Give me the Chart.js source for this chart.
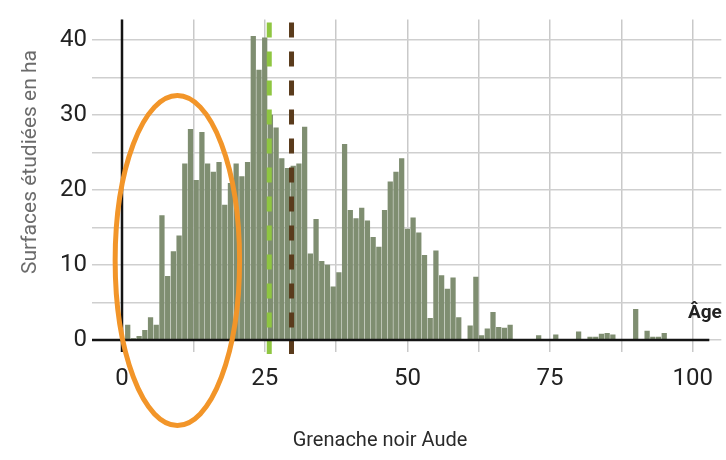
<!DOCTYPE html>
<html>
<head>
<meta charset="utf-8">
<script src="https://cdn.jsdelivr.net/npm/chart.js@4.4.1/dist/chart.umd.min.js"></script>
<style>
  html, body { margin: 0; padding: 0; background: #fff; }
  #wrap { width: 726px; height: 460px; }
</style>
</head>
<body>
<div id="wrap"><canvas id="ageChart" width="726" height="460"></canvas></div>
<script>
// Âge des parcelles (années) et surfaces étudiées (ha)
const ages = [
  0, 1, 2, 3, 4, 5, 6, 7, 8, 9,
  10, 11, 12, 13, 14, 15, 16, 17, 18, 19,
  20, 21, 22, 23, 24, 25, 26, 27, 28, 29,
  30, 31, 32, 33, 34, 35, 36, 37, 38, 39,
  40, 41, 42, 43, 44, 45, 46, 47, 48, 49,
  50, 51, 52, 53, 54, 55, 56, 57, 58, 59,
  60, 61, 62, 63, 64, 65, 66, 67, 68, 69,
  70, 71, 72, 73, 74, 75, 76, 77, 78, 79,
  80, 81, 82, 83, 84, 85, 86, 87, 88, 89,
  90, 91, 92, 93, 94, 95, 96, 97
];
const surfaces = [
  0, 2.0, 0.2, 0.5, 1.3, 3.0, 2.0, 16.6, 8.5, 11.8,
  13.9, 23.5, 28.1, 21.3, 27.7, 23.5, 22.4, 23.7, 18.0, 20.9,
  23.5, 21.8, 23.7, 40.5, 36.0, 40.3, 30.0, 28.3, 24.2, 22.9,
  23.2, 23.5, 28.4, 11.5, 16.1, 10.5, 10.0, 7.1, 9.0, 26.1,
  17.3, 16.2, 17.6, 15.9, 13.7, 12.4, 17.3, 21.1, 22.4, 24.2,
  14.8, 16.3, 14.3, 11.3, 2.9, 11.9, 8.6, 6.8, 8.3, 3.0,
  0, 1.9, 8.4, 0.6, 1.5, 3.7, 1.7, 1.6, 2.0, 0,
  0, 0, 0, 0.6, 0, 0, 0.7, 0, 0, 0,
  1.1, 0, 0.4, 0.4, 0.8, 0.9, 0.7, 0, 0, 0,
  4.1, 0, 1.2, 0.4, 0.4, 0.9, 0, 0
];
const xTicks = [0, 25, 50, 75, 100];
const yTicks = [0, 10, 20, 30, 40];

// lignes verticales de repère (âges)
const refAges = [25.8, 29.7];
const refColors = ["#8fc641", "#5a3b1c"];

// ellipse orange (en unités des axes)
const circleCenter = [9.7, 10.6];
const circleRadius = [10.9, 22];

const decor = {
  id: "decor",
  afterDatasetsDraw(chart) {
    const { ctx, chartArea, scales } = chart;
    const x = scales.x, y = scales.y;
    const y0 = y.getPixelForValue(0);
    const x0 = x.getPixelForValue(0);
    ctx.save();

    // lignes pointillées
    refAges.forEach((a, i) => {
      const px = x.getPixelForValue(a);
      ctx.strokeStyle = refColors[i];
      ctx.lineWidth = 5;
      ctx.setLineDash([15, 14]);
      ctx.beginPath();
      ctx.moveTo(px, chartArea.top + 3);
      ctx.lineTo(px, y0);
      ctx.stroke();
      ctx.setLineDash([]);
      ctx.beginPath();
      ctx.moveTo(px, y0);
      ctx.lineTo(px, y0 + 14);
      ctx.stroke();
    });

    // axes noirs
    ctx.strokeStyle = "#141414";
    ctx.lineWidth = 2.5;
    ctx.beginPath();
    ctx.moveTo(x0 - 30, y0);
    ctx.lineTo(chartArea.right - 12, y0);
    ctx.moveTo(x0, chartArea.top);
    ctx.lineTo(x0, y0 + 12);
    ctx.stroke();

    // ellipse
    const cx = x.getPixelForValue(circleCenter[0]);
    const cy = y.getPixelForValue(circleCenter[1]);
    const rx = x.getPixelForValue(circleRadius[0]) - x0;
    const ry = y0 - y.getPixelForValue(circleRadius[1]);
    ctx.strokeStyle = "#f29529";
    ctx.lineWidth = 5;
    ctx.beginPath();
    ctx.ellipse(cx, cy, rx, ry, 0, 0, Math.PI * 2);
    ctx.stroke();

    // textes
    ctx.fillStyle = "#222";
    ctx.font = "bold 19px Roboto";
    ctx.textAlign = "left";
    ctx.textBaseline = "alphabetic";
    ctx.fillText("Âge", 688, 318);

    ctx.font = "20px Roboto";
    ctx.fillStyle = "#2a2a2a";
    ctx.textAlign = "center";
    ctx.textBaseline = "middle";
    ctx.fillText("Grenache noir Aude", 380, 441);

    ctx.font = "21px Roboto";
    ctx.fillStyle = "#6b6b6b";
    ctx.translate(31, 162);
    ctx.rotate(-Math.PI / 2);
    ctx.fillText("Surfaces étudiées en ha", 0, 0);
    ctx.restore();
  }
};

const ctx = document.getElementById("ageChart").getContext("2d");

new Chart(ctx, {
  type: "bar",
  data: {
    datasets: [
      {
        label: "Surfaces",
        data: ages.map((a, i) => ({ x: a, y: surfaces[i] })),
        backgroundColor: "#7f8e71",
        barThickness: 4.6,
      },
    ],
  },
  options: {
    responsive: false,
    animation: false,
    devicePixelRatio: 1,
    layout: { padding: { top: 13, left: 0, right: 0, bottom: 0 } },
    plugins: { legend: { display: false }, tooltip: { enabled: false } },
    scales: {
      x: {
        type: "linear",
        min: 0,
        max: 105,
        offset: false,
        afterFit(s) { s.height = 120; },
        border: { display: false },
        grid: { offset: false, color: "#c9c9c9", lineWidth: 1.5, tickLength: 12 },
        ticks: {
          stepSize: 12.5,
          includeBounds: false,
          autoSkip: false,
          maxRotation: 0,
          padding: 13,
          color: "#222",
          font: { family: "Roboto", size: 24 },
          callback: (v) => (xTicks.includes(v) ? String(v) : ""),
        },
      },
      y: {
        min: 0,
        max: 42.75,
        afterFit(s) { s.width = 122; },
        border: { display: false },
        grid: { color: "#cfcfcf", lineWidth: 1.5, tickLength: 30 },
        ticks: {
          stepSize: 5,
          includeBounds: false,
          padding: 5,
          color: "#222",
          font: { family: "Roboto", size: 24 },
          callback: (v) => (yTicks.includes(v) ? String(v) : ""),
        },
      },
    },
  },
  plugins: [decor],
});
</script>
</body>
</html>
